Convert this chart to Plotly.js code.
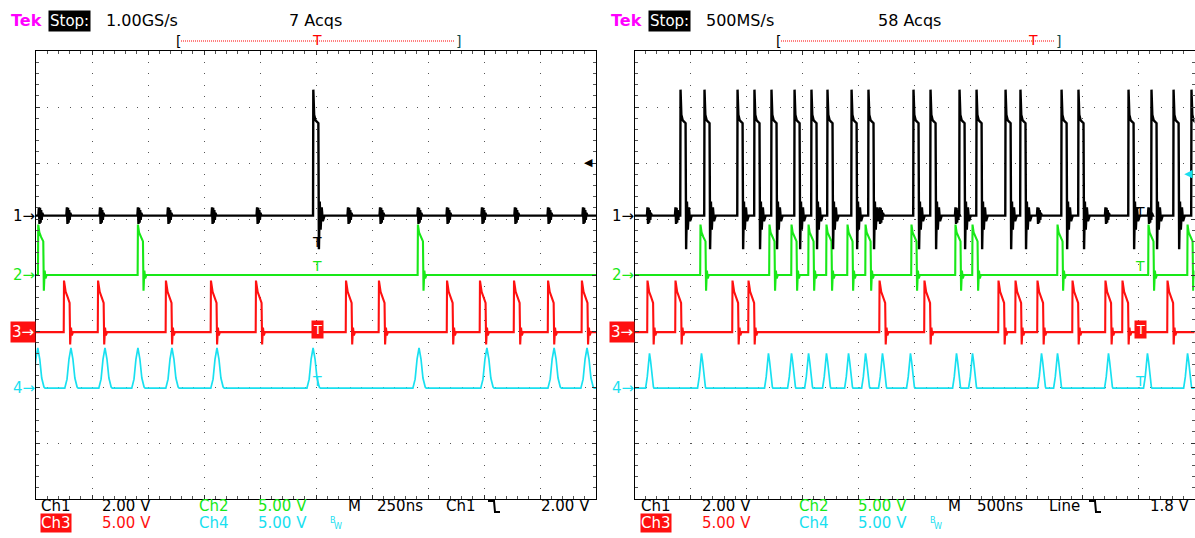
<!DOCTYPE html>
<html><head><meta charset="utf-8">
<script src="https://cdn.plot.ly/plotly-3.0.1.min.js"></script>
<style>html,body{margin:0;padding:0;background:#fff;overflow:hidden}#chart{width:1195px;height:538px}</style>
</head><body><div id="chart"></div>
<script>
// ---------- DATA (times in ns, levels in volts) ----------
// Left capture: 250 ns/div, 10 divisions
const leftCh1Rise = [1238];
const leftCh1NoiseBursts = [13, 138, 286, 455, 589, 786, 987, 1393, 1536, 1705, 1835, 1991, 2138, 2286, 2442];
const leftCh2Rise = [10, 455, 1705];
const leftCh3Rise = [125, 277, 580, 781, 982, 1384, 1531, 1835, 1982, 2134, 2286, 2437];
const leftCh4Peak = [8, 156, 308, 455, 607, 808, 1237, 1710, 2013, 2313, 2460];
// Right capture: 500 ns/div, 10 divisions
const rightCh1Rise = [411, 625, 920, 1071, 1223, 1429, 1580, 1723, 1938, 2089, 2491, 2643, 2902, 3054, 3313, 3446, 3813, 3964, 4411, 4616, 4813, 4973];
const rightCh1NoiseBursts = [116, 366, 2188, 2866, 3598, 4205, 4589];
const rightCh2Rise = [589, 1205, 1402, 1554, 1714, 1902, 2063, 2473, 2866, 3018, 3777, 4589, 4938];
const rightCh3Rise = [116, 366, 875, 1018, 2188, 2589, 3250, 3402, 3598, 3911, 4205, 4357, 4759];
const rightCh4Peak = [134, 598, 1196, 1402, 1554, 1714, 1911, 2063, 2214, 2464, 2875, 3018, 3634, 3777, 4232, 4580, 4938];
// Pulse profiles: [offset in divisions, volts]
const ch1Pulse = [[-0.005,0],[0,4.5],[0.015,3.6],[0.04,3.4],[0.09,3.3],[0.1,-1.2],[0.115,0.5],[0.13,-0.5],[0.15,0.3],[0.17,-0.2],[0.2,0]];
const ch1Burst = [[-0.01,0],[0,0.3],[0.01,-0.3],[0.02,0.28],[0.03,-0.25],[0.04,0.2],[0.05,-0.15],[0.06,0.1],[0.08,0]];
const ch2Pulse = [[-0.005,0],[0,4.5],[0.02,3.8],[0.05,3.4],[0.09,3.0],[0.1,-1.4],[0.115,0.4],[0.13,-0.3],[0.15,0]];
const ch3Pulse = [[-0.005,0],[0,4.6],[0.03,3.6],[0.06,3.2],[0.1,2.6],[0.11,-1.1],[0.125,0.4],[0.14,-0.3],[0.16,0]];
const ch4PulseLeft = [[-0.11,0],[-0.07,0.8],[-0.035,2.6],[0,3.6],[0.035,2.6],[0.07,0.9],[0.11,0.1],[0.13,0]];
const ch4PulseRight = [[-0.07,0],[-0.04,1.0],[-0.02,2.4],[0,3.1],[0.02,2.4],[0.045,0.9],[0.07,0.1],[0.08,0]];
// Channel settings
const chNames = ['Ch1','Ch2','Ch3','Ch4'];
const voltsPerDiv = [2, 5, 5, 5];
const leftTimeLabel = '250ns', rightTimeLabel = '500ns';
const leftNsPerDiv = 250, rightNsPerDiv = 500;

// ---------- STYLE ----------
const W = 1195, H = 538;
const FONT = 'DejaVu Sans, Liberation Sans, sans-serif';
const FS = 15;
const colors = ['#000000', '#18e818', '#ff1010', '#18e0f0'];
const offsetsDiv = [1.06, 0.0, -1.02, -2.02];   // channel ground positions (divisions from centre)
const px = x => x / W, py = y => 1 - y / H;

function build(segs, nsPerDiv, ch) {
  const pieces = [];
  segs.forEach(([events, tmpl]) => events.forEach(t0 =>
    pieces.push(tmpl.map(([d, v]) => [t0 + d * nsPerDiv, v]))));
  pieces.sort((a, b) => a[0][0] - b[0][0]);
  const o = offsetsDiv[ch], k = voltsPerDiv[ch];
  const x = [-nsPerDiv], y = [o];
  pieces.forEach(p => p.forEach(([t, v]) => { x.push(t); y.push(o + v / k); }));
  x.push(11 * nsPerDiv); y.push(o);
  return {x, y};
}

const traces = [];
const panels = [
  {xa:'x', ya:'y', ns:leftNsPerDiv, segs:[
    [[leftCh1Rise, ch1Pulse], [leftCh1NoiseBursts, ch1Burst]],
    [[leftCh2Rise, ch2Pulse]], [[leftCh3Rise, ch3Pulse]], [[leftCh4Peak, ch4PulseLeft]]]},
  {xa:'x2', ya:'y2', ns:rightNsPerDiv, segs:[
    [[rightCh1Rise, ch1Pulse], [rightCh1NoiseBursts, ch1Burst]],
    [[rightCh2Rise, ch2Pulse]], [[rightCh3Rise, ch3Pulse]], [[rightCh4Peak, ch4PulseRight]]]}
];
const widths = [2.4, 2.1, 2.1, 1.7];
panels.forEach(p => {
  [3,2,1,0].forEach(i => {
    const d = build(p.segs[i], p.ns, i);
    traces.push({type:'scatter', mode:'lines', x:d.x, y:d.y, xaxis:p.xa, yaxis:p.ya,
      line:{color:colors[i], width:widths[i]}, hoverinfo:'skip', showlegend:false});
  });
});

const gridDash = '1px,10.2px';
function xAxis(dom, ns, anchor) {
  return {domain:dom, range:[0, 10*ns], anchor, dtick:ns, tick0:0, showgrid:true, gridcolor:'#555', gridwidth:1,
    griddash:gridDash, zeroline:false, showline:true, linecolor:'#000', linewidth:1, mirror:'allticks',
    ticks:'inside', ticklen:4, tickcolor:'#333', showticklabels:false, fixedrange:true,
    minor:{dtick:ns/5, tick0:0, ticks:'inside', ticklen:3, tickcolor:'#555', showgrid:false}};
}
function yAxis(dom, anchor) {
  return {domain:dom, range:[-4, 4], anchor, dtick:1, tick0:0, showgrid:true, gridcolor:'#555', gridwidth:1,
    griddash:gridDash, zeroline:false, showline:true, linecolor:'#000', linewidth:1, mirror:'allticks',
    ticks:'inside', ticklen:4, tickcolor:'#333', showticklabels:false, fixedrange:true,
    minor:{dtick:0.2, tick0:0, ticks:'inside', ticklen:3, tickcolor:'#555', showgrid:false}};
}
const yDom = [py(499), py(51)];
const layout = {
  width:W, height:H, margin:{l:0, r:0, t:0, b:0}, paper_bgcolor:'#fff', plot_bgcolor:'#fff', showlegend:false,
  xaxis: xAxis([px(36), px(596)], leftNsPerDiv, 'y'),
  yaxis: yAxis(yDom, 'x'),
  xaxis2: xAxis([px(634.5), px(1194.5)], rightNsPerDiv, 'y2'),
  yaxis2: yAxis(yDom, 'x2'),
  annotations: [], shapes: []
};

const A = layout.annotations, S = layout.shapes;
function T(text, x, y, o) {
  A.push(Object.assign({text, x:px(x), y:py(y), xref:'paper', yref:'paper', showarrow:false,
    xanchor:'left', yanchor:'middle', borderpad:0, font:{family:FONT, size:FS, color:'#000'}}, o || {}));
}
function header(x0, rate, acqX, acqs) {
  T('Tek', x0, 21, {font:{family:FONT, size:16, color:'#ff00ff', weight:'bold'}});
  T('Stop:', x0 + 38, 21, {bgcolor:'#000', borderpad:1, font:{family:FONT, size:15, color:'#fff'}});
  T(rate, x0 + 95, 21, {font:{family:FONT, size:16, color:'#000'}});
  T(acqs, acqX, 21, {font:{family:FONT, size:16, color:'#000'}});
}
header(10, '1.00GS/s', 288, '7 Acqs');
header(610, '500MS/s', 877, '58 Acqs');
function bracket(x0, x1, tx) {
  T('[', x0, 41, {xanchor:'center', font:{family:FONT, size:14, color:'#000'}});
  T(']', x1, 41, {xanchor:'center', font:{family:FONT, size:14, color:'#0a4a4a'}});
  S.push({type:'line', xref:'paper', yref:'paper', x0:px(x0 + 3), x1:px(x1 - 3), y0:py(41), y1:py(41),
    line:{color:'#ff0000', width:1, dash:'1px,1px'}});
  T('T', tx, 40, {xanchor:'center', font:{family:FONT, size:14, color:'#ff0000'}});
}
bracket(178, 458, 317);
bracket(778, 1058, 1033);

const R1 = 506, R2 = 523;
function footer(x0, timeLbl, trigSrc, trigSrcX, edgeX, level) {
  const f = c => ({font:{family:FONT, size:FS, color:c}});
  T(chNames[0], x0, R1);
  T(voltsPerDiv[0].toFixed(2) + ' V', x0 + 61, R1);
  T(chNames[1], x0 + 158, R1, f(colors[1]));
  T(voltsPerDiv[1].toFixed(2) + ' V', x0 + 217, R1, f(colors[1]));
  T('M', x0 + 307, R1);
  T(timeLbl, x0 + 336, R1);
  T(trigSrc, trigSrcX, R1);
  S.push({type:'path', xref:'paper', yref:'paper',
    path:`M${px(edgeX)},${py(501)} L${px(edgeX+6)},${py(501)} L${px(edgeX+7)},${py(512)} L${px(edgeX+12)},${py(512)}`,
    line:{color:'#000', width:2}});
  T(level, x0 + 551, R1, {xanchor:'right'});
  T(chNames[2], x0, R2, {bgcolor:'#ff1010', borderpad:0, font:{family:FONT, size:FS, color:'#fff'}});
  T(voltsPerDiv[2].toFixed(2) + ' V', x0 + 61, R2, f(colors[2]));
  T(chNames[3], x0 + 158, R2, f(colors[3]));
  T(voltsPerDiv[3].toFixed(2) + ' V', x0 + 217, R2, f(colors[3]));
  T('B', x0 + 289, R2 - 3, {font:{family:FONT, size:8, color:colors[3]}});
  T('W', x0 + 293, R2 + 3, {font:{family:FONT, size:8, color:colors[3]}});
}
footer(40, leftTimeLabel, 'Ch1', 445, 488, '2.00 V');
footer(640, rightTimeLabel, 'Line', 1048, 1089, '1.8 V');

function markers(xEdge) {
  const ys = [216, 274.5, 332, 388];
  ys.forEach((y, i) => {
    if (i === 2) T('3→', xEdge, y, {xanchor:'right', bgcolor:'#ff1010', borderpad:1, font:{family:FONT, size:15, color:'#fff'}});
    else T((i + 1) + '→', xEdge, y, {xanchor:'right', font:{family:FONT, size:15, color:colors[i]}});
  });
}
markers(36);
markers(635);

function tMarks(x, yBlack) {
  T('T', x, yBlack, {xanchor:'center', font:{family:FONT, size:14, color:'#000'}});
  T('T', x, 266, {xanchor:'center', font:{family:FONT, size:14, color:colors[1]}});
  T('T', x, 329, {xanchor:'center', bgcolor:'#ff1010', borderpad:1, font:{family:FONT, size:13, color:'#fff'}});
  T('T', x, 381, {xanchor:'center', font:{family:FONT, size:14, color:colors[3]}});
}
tMarks(317, 242);
tMarks(1140, 212);
T('◀', 588, 163, {xanchor:'center', font:{family:FONT, size:11, color:'#000'}});
T('◀', 1188, 173, {xanchor:'center', font:{family:FONT, size:11, color:colors[3]}});

Plotly.newPlot('chart', traces, layout, {staticPlot:true, displayModeBar:false});
</script></body></html>
